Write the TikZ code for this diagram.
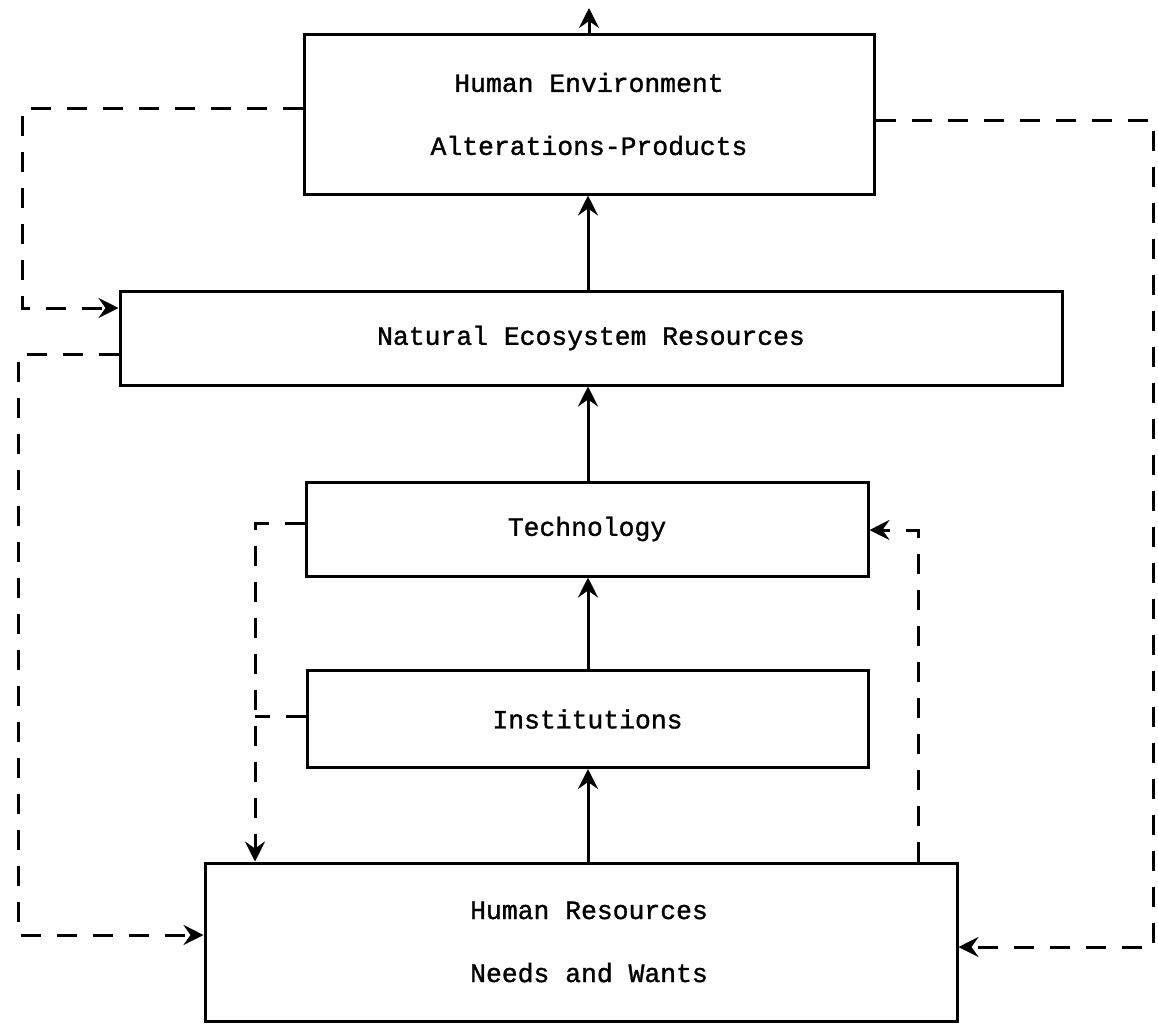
\documentclass[tikz,border=0pt]{standalone}
\usepackage{fontspec}
\newfontfamily\typefont{Liberation Mono}[FakeBold=1.2]
\usetikzlibrary{arrows.meta}
\begin{document}
\begin{tikzpicture}[x=0.5pt,y=-0.5pt,
  box/.style={draw, line width=1.5pt, inner sep=0pt, align=center,
    font=\typefont\fontsize{13.2}{31.5}\selectfont},
  tip/.style={-{Stealth[length=10pt,width=10pt,inset=3.5pt]}},
  flow/.style={line width=1.5pt, tip},
  feedback/.style={line width=1.5pt, dash pattern=on 10pt off 8pt, tip},
  tie/.style={line width=1.5pt, dash pattern=on 10pt off 8pt}]
\useasboundingbox (0,0) rectangle (1158,1024);

% the five stages, bottom to top
\node[box, minimum width=285pt, minimum height=80pt] (env) at (589,114)
  {Human Environment\\Alterations-Products};
\node[box, minimum width=471pt, minimum height=47pt] (nat) at (591,338)
  {Natural Ecosystem Resources};
\node[box, minimum width=281pt, minimum height=47pt] (tech) at (587,529)
  {Technology};
\node[box, minimum width=280.5pt, minimum height=48.5pt] (inst) at (587.5,719)
  {Institutions};
\node[box, minimum width=376pt, minimum height=79pt] (hr) at (581,942)
  {\hspace*{8pt}Human Resources\\\hspace*{8pt}Needs and Wants};

% main upward chain
\coordinate (spine) at (588,0);
\coordinate (out) at (589,8);
\draw[flow] (hr.north -| spine) -- (inst.south -| spine);
\draw[flow] (inst.north -| spine) -- (tech.south -| spine);
\draw[flow] (tech.north -| spine) -- (nat.south -| spine);
\draw[flow] (nat.north -| spine) -- (env.south -| spine);
\draw[flow] (env.north -| out) -- (out);

% outer feedback loops on the left
\coordinate (ul) at (22,108);
\coordinate (ll) at (22,308);
\draw[feedback] (env.west |- ul) -- (ul) -- (ll) -- (nat.west |- ll);
\coordinate (ml) at (18,354);
\coordinate (bl) at (18,935);
\draw[feedback] (nat.west |- ml) -- (ml) -- (bl) -- (hr.west |- bl);

% outer feedback loop on the right
\coordinate (ur) at (1153,120);
\coordinate (br) at (1153,947);
\draw[feedback] (env.east |- ur) -- (ur) -- (br) -- (hr.east |- br);

% inner loops
\coordinate (tl) at (255,523);
\coordinate (il) at (255,716);
\draw[feedback] (tech.west |- tl) -- (tl) -- (hr.north -| tl);
\draw[tie] (inst.west |- il) -- (il);
\coordinate (tr) at (918,530);
\draw[feedback] (hr.north -| tr) -- (tr) -- (tech.east |- tr);
\end{tikzpicture}
\end{document}
